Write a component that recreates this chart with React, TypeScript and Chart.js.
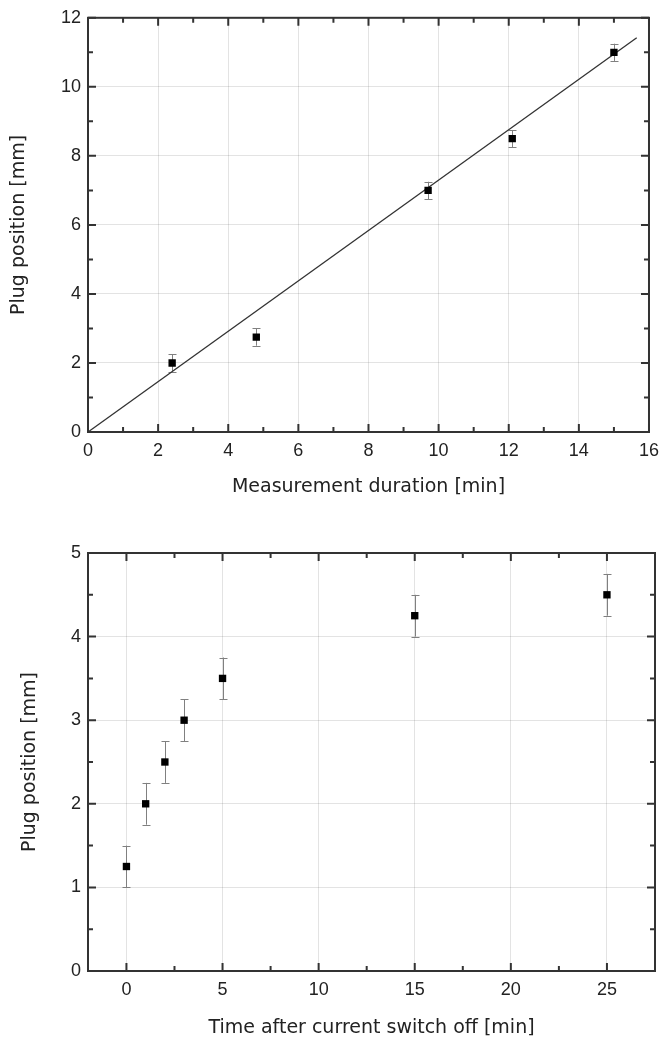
import React, { useEffect, useRef } from "react";
import { Chart, registerables } from "chart.js";

Chart.register(...registerables);

// ---------- Top chart data ----------
const topX = [2.4, 4.8, 9.7, 12.1, 15.0];
const topY = [2.0, 2.75, 7.0, 8.5, 11.0];
const topErr = [0.25, 0.25, 0.25, 0.25, 0.25];
const fitX = [0, 15.65];
const fitY = [0, 11.42];
const topXTicks = [0, 2, 4, 6, 8, 10, 12, 14, 16];
const topXMinor = [1, 3, 5, 7, 9, 11, 13, 15];
const topYTicks = [0, 2, 4, 6, 8, 10, 12];
const topYMinor = [1, 3, 5, 7, 9, 11];

// ---------- Bottom chart data ----------
const botX = [0, 1, 2, 3, 5, 15, 25];
const botY = [1.25, 2.0, 2.5, 3.0, 3.5, 4.25, 4.5];
const botErr = [0.25, 0.25, 0.25, 0.25, 0.25, 0.25, 0.25];
const botXTicks = [0, 5, 10, 15, 20, 25];
const botXMinor = [2.5, 7.5, 12.5, 17.5, 22.5];
const botYTicks = [0, 1, 2, 3, 4, 5];
const botYMinor = [0.5, 1.5, 2.5, 3.5, 4.5];

const TICK_FONT = { family: "'Liberation Sans', Arial, sans-serif", size: 18 };
const TITLE_FONT = { family: "'DejaVu Sans', sans-serif", size: 19 };
const TEXT = "#222";
const GRID = "rgba(0,0,0,0.11)";

const framePlugin = {
  id: "frame",
  beforeDatasetsDraw(chart: any, _a: any, opts: any) {
    const xs = chart.scales.x;
    const ys = chart.scales.y;
    const ctx = chart.ctx;
    const data = chart.data.datasets[0].data;
    ctx.save();
    ctx.strokeStyle = "#808080";
    ctx.lineWidth = 1;
    data.forEach((p: any, i: number) => {
      const e = opts.err[i];
      const px = Math.round(xs.getPixelForValue(p.x)) + 0.5;
      const y1 = ys.getPixelForValue(p.y + e);
      const y2 = ys.getPixelForValue(p.y - e);
      ctx.beginPath();
      ctx.moveTo(px, y1);
      ctx.lineTo(px, y2);
      ctx.moveTo(px - 4, Math.round(y1) + 0.5);
      ctx.lineTo(px + 4, Math.round(y1) + 0.5);
      ctx.moveTo(px - 4, Math.round(y2) + 0.5);
      ctx.lineTo(px + 4, Math.round(y2) + 0.5);
      ctx.stroke();
    });
    ctx.restore();
  },
  afterDraw(chart: any, _a: any, opts: any) {
    const xs = chart.scales.x;
    const ys = chart.scales.y;
    const ctx = chart.ctx;
    const { left, right, top, bottom } = chart.chartArea;
    ctx.save();
    ctx.strokeStyle = "#333";
    ctx.lineWidth = 2;
    const MAJ = 8;
    const MIN = 5;
    const xt = (vals: number[], len: number) => {
      vals.forEach((v) => {
        const px = xs.getPixelForValue(v);
        ctx.beginPath();
        ctx.moveTo(px, bottom);
        ctx.lineTo(px, bottom - len);
        ctx.moveTo(px, top);
        ctx.lineTo(px, top + len);
        ctx.stroke();
      });
    };
    const yt = (vals: number[], len: number) => {
      vals.forEach((v) => {
        const py = ys.getPixelForValue(v);
        ctx.beginPath();
        ctx.moveTo(left, py);
        ctx.lineTo(left + len, py);
        ctx.moveTo(right, py);
        ctx.lineTo(right - len, py);
        ctx.stroke();
      });
    };
    xt(opts.xMajor, MAJ);
    xt(opts.xMinor, MIN);
    yt(opts.yMajor, MAJ);
    yt(opts.yMinor, MIN);
    ctx.strokeRect(left, top, right - left, bottom - top);
    ctx.restore();
  },
};

function makeConfig(p: {
  xs: number[];
  ys: number[];
  err: number[];
  fit?: { x: number[]; y: number[] };
  xMin: number;
  xMax: number;
  yMin: number;
  yMax: number;
  xTicks: number[];
  xMinor: number[];
  yTicks: number[];
  yMinor: number[];
  xTitle: string;
  yTitle: string;
  yTitlePad: number;
  padding: { left: number; right: number; top: number; bottom: number };
  xAxisH: number;
}): any {
  const datasets: any[] = [
    {
      label: "data",
      data: p.xs.map((x, i) => ({ x, y: p.ys[i] })),
      pointStyle: "rect",
      pointRadius: 5.2,
      pointBackgroundColor: "#000",
      pointBorderColor: "#000",
      pointBorderWidth: 0,
      showLine: false,
    },
  ];
  if (p.fit) {
    datasets.push({
      label: "fit",
      data: p.fit.x.map((x, i) => ({ x, y: p.fit!.y[i] })),
      showLine: true,
      borderColor: "#333",
      borderWidth: 1.3,
      pointRadius: 0,
      fill: false,
    });
  }
  const setTicks = (vals: number[]) => (scale: any) => {
    scale.ticks = vals.map((v) => ({ value: v }));
  };
  return {
    type: "scatter",
    data: { datasets },
    options: {
      animation: false,
      responsive: false,
      maintainAspectRatio: false,
      layout: { padding: p.padding },
      plugins: {
        legend: { display: false },
        tooltip: { enabled: false },
        frame: {
          err: p.err,
          xMajor: p.xTicks,
          xMinor: p.xMinor,
          yMajor: p.yTicks,
          yMinor: p.yMinor,
        },
      },
      scales: {
        x: {
          type: "linear",
          min: p.xMin,
          max: p.xMax,
          afterBuildTicks: setTicks(p.xTicks),
          afterFit: (s: any) => {
            s.height = p.xAxisH;
          },
          grid: { color: GRID, lineWidth: 1, drawTicks: false },
          border: { display: false },
          ticks: { font: TICK_FONT, color: TEXT, padding: 8, maxRotation: 0, autoSkip: false },
          title: { display: true, text: p.xTitle, font: TITLE_FONT, color: TEXT, padding: 0 },
        },
        y: {
          type: "linear",
          min: p.yMin,
          max: p.yMax,
          afterBuildTicks: setTicks(p.yTicks),
          afterFit: (s: any) => {
            s.width = 88;
          },
          grid: { color: GRID, lineWidth: 1, drawTicks: false },
          border: { display: false },
          ticks: { font: TICK_FONT, color: TEXT, padding: 7, autoSkip: false },
          title: {
            display: true,
            text: p.yTitle,
            font: TITLE_FONT,
            color: TEXT,
            padding: { top: p.yTitlePad, bottom: 0 },
          },
        },
      },
    },
    plugins: [framePlugin],
  };
}

function PlotCanvas({ top, height, config }: { top: number; height: number; config: any }) {
  const ref = useRef<HTMLCanvasElement | null>(null);
  useEffect(() => {
    if (!ref.current) return;
    const chart = new Chart(ref.current, config);
    return () => chart.destroy();
  }, []);
  return (
    <canvas
      ref={ref}
      width={667}
      height={height}
      style={{ position: "absolute", left: 0, top, width: 667, height }}
    />
  );
}

export default function App() {
  const topCfg = makeConfig({
    xs: topX,
    ys: topY,
    err: topErr,
    fit: { x: fitX, y: fitY },
    xMin: 0,
    xMax: 16,
    yMin: 0,
    yMax: 12,
    xTicks: topXTicks,
    xMinor: topXMinor,
    yTicks: topYTicks,
    yMinor: topYMinor,
    xTitle: "Measurement duration [min]",
    yTitle: "Plug position [mm]",
    yTitlePad: 7.6,
    padding: { left: 0, right: 13, top: 14.5, bottom: 11.6 },
    xAxisH: 66.4,
  });
  const botCfg = makeConfig({
    xs: botX,
    ys: botY,
    err: botErr,
    xMin: -2,
    xMax: 27.5,
    yMin: 0,
    yMax: 5,
    xTicks: botXTicks,
    xMinor: botXMinor,
    yTicks: botYTicks,
    yMinor: botYMinor,
    xTitle: "Time after current switch off [min]",
    yTitle: "Plug position [mm]",
    yTitlePad: 18.6,
    padding: { left: 0, right: 12, top: 43, bottom: 3.6 },
    xAxisH: 68.4,
  });
  return (
    <div style={{ position: "absolute", left: 0, top: 0, width: 667, height: 1043, background: "#fff" }}>
      <PlotCanvas top={0} height={510} config={topCfg} />
      <PlotCanvas top={510} height={533} config={botCfg} />
    </div>
  );
}
